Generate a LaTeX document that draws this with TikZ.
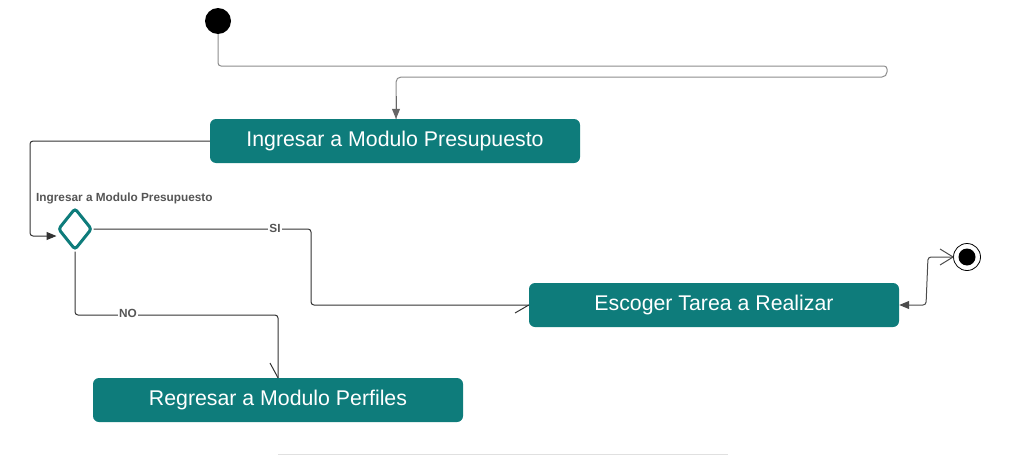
\documentclass[tikz,border=0pt]{standalone}
\usepackage{fontspec}
\setmainfont{Liberation Sans}
\usetikzlibrary{arrows.meta,shapes.geometric}
\definecolor{teal1}{HTML}{0E7C7B}
\definecolor{lbl}{HTML}{555555}
\begin{document}
\begin{tikzpicture}[x=1pt,y=-1pt,
  act/.style={fill=teal1,rounded corners=6pt,minimum width=370pt,minimum height=44pt,text=white,font=\fontsize{21.3}{25}\selectfont,inner sep=0pt},
  conn/.style={line width=1pt,rounded corners=3pt},
  lab/.style={font=\bfseries\fontsize{11.8}{14}\selectfont,text=lbl,fill=white,inner sep=1pt}]
\useasboundingbox (0,0) rectangle (1025,455);
\node[circle,fill=black,minimum size=26pt,inner sep=0pt] (start) at (218,21) {};
\node[act] (b1) at (395,141) {Ingresar a Modulo Presupuesto};
\node[act] (b2) at (714,305) {Escoger Tarea a Realizar};
\node[act] (b3) at (278,400) {Regresar a Modulo Perfiles};
\node[diamond,draw=teal1,line width=3pt,fill=white,rounded corners=3pt,minimum width=34pt,minimum height=42pt,inner sep=0pt,aspect=0.8] (d) at (75,229) {};
\node[lab,fill=none,anchor=west] (dl) at (35,198) {Ingresar a Modulo Presupuesto};
\node[circle,draw=black,line width=0.8pt,minimum size=27pt,inner sep=0pt] (end) at (967,257) {};
\node[circle,fill=black,minimum size=17pt,inner sep=0pt] (endin) at (967,257) {};
\coordinate (r1) at (887,66);
% start -> b1
\draw[conn,color=black!45] (start.south) |- (r1) [rounded corners=5pt] |- ([xshift=1pt]b1.north |- 0,77) [rounded corners=3pt] -- ([xshift=1pt]b1.north);
\draw[conn,color=black!60,-{Triangle[width=8pt,length=10pt]}] (396,96) -- ([xshift=1pt]b1.north);
% b1 -> diamond
\draw[conn,color=black!80,-{Triangle[width=8pt,length=10pt]}] (b1.west) -| (30,236) -- (d.west |- 0,236);
% diamond -> b2 (SI)
\draw[conn,color=black!80] (d.east) -- (311,229) |- (b2.west);
\node[lab] (si) at (275,228) {SI};
\coordinate (si1) at (515,313);
\draw[line width=1pt,color=black!80] (b2.west) -- (si1);
% diamond -> b3 (NO)
\draw[conn,color=black!80] (d.south) |- (278,315) -- (b3.north);
\node[lab] (no) at (128,313) {NO};
\coordinate (no1) at (270,363);
\draw[line width=1pt,color=black!80] (b3.north) -- (no1);
% b2 <-> end
\coordinate (e1) at (940,249);
\coordinate (e2) at (940,265);
\draw[conn,color=black!70,-{Triangle[width=8pt,length=10pt]}] (end.west) -- (928,257) -- (926,305) -- (b2.east);
\draw[line width=1pt,color=black!70] (e1) -- (end.west) -- (e2);
% bottom faint line
\draw[line width=1pt,color=black!12] (278,454) -- (728,454);
\end{tikzpicture}
\end{document}
